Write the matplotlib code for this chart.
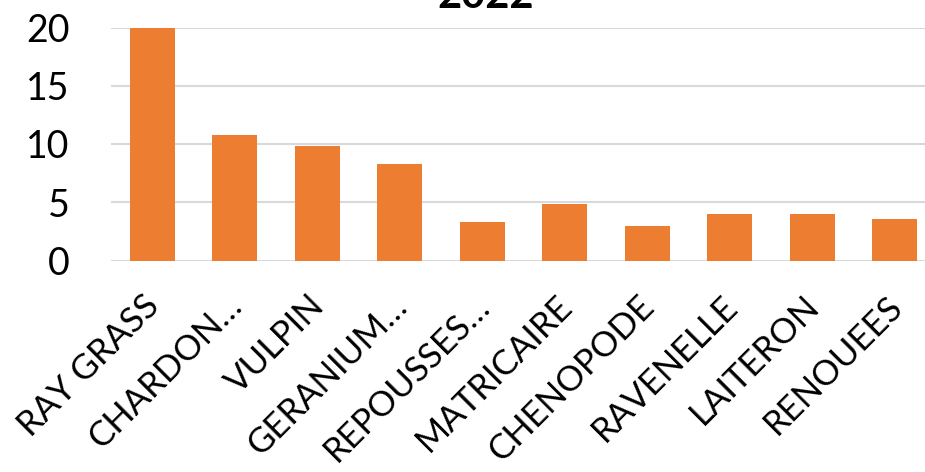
import matplotlib
matplotlib.use("Agg")
import matplotlib.pyplot as plt
from matplotlib.transforms import ScaledTranslation

categories = ["RAY GRASS", "CHARDON…", "VULPIN", "GERANIUM…", "REPOUSSES…",
              "MATRICAIRE", "CHENOPODE", "RAVENELLE", "LAITERON", "RENOUEES"]
values = [20.0, 10.75, 9.8, 8.27, 3.3, 4.88, 3.0, 4.0, 3.95, 3.6]
yticks = [0, 5, 10, 15, 20]
title = "2022"

plt.rcParams['font.family'] = ['Lato', 'DejaVu Sans']

W, H = 925, 472
fig = plt.figure(figsize=(W / 100, H / 100), dpi=100)
ax = fig.add_axes([111 / W, 1 - 260.5 / H, 825 / W, 233 / H])

x = list(range(len(categories)))
ax.bar(x, values, width=0.55, color="#ED7D31", zorder=3)
ax.set_xlim(-0.5, len(categories) - 0.5)
ax.set_ylim(0, 20)
ax.set_yticks(yticks)
ax.set_yticklabels([str(t) for t in yticks])
ax.set_xticks(x)
ax.set_xticklabels(categories, rotation=45, ha="right", va="top",
                   rotation_mode="anchor")
ax.tick_params(axis="y", length=0, pad=30, labelsize=27)
ax.tick_params(axis="x", length=0, pad=21, labelsize=25)
offset = ScaledTranslation(-9 / 100, 0, fig.dpi_scale_trans)
for lab in ax.get_xticklabels():
    lab.set_transform(lab.get_transform() + offset)
ax.grid(axis="y", color="#D9D9D9", linewidth=1.5, zorder=0)
for s in ax.spines.values():
    s.set_visible(False)
ax.set_axisbelow(True)

fig.text(486 / W, 1 - 8 / H, title, ha="center", va="baseline",
         fontsize=30, fontweight="bold")

fig.savefig("out.png", dpi=100)
